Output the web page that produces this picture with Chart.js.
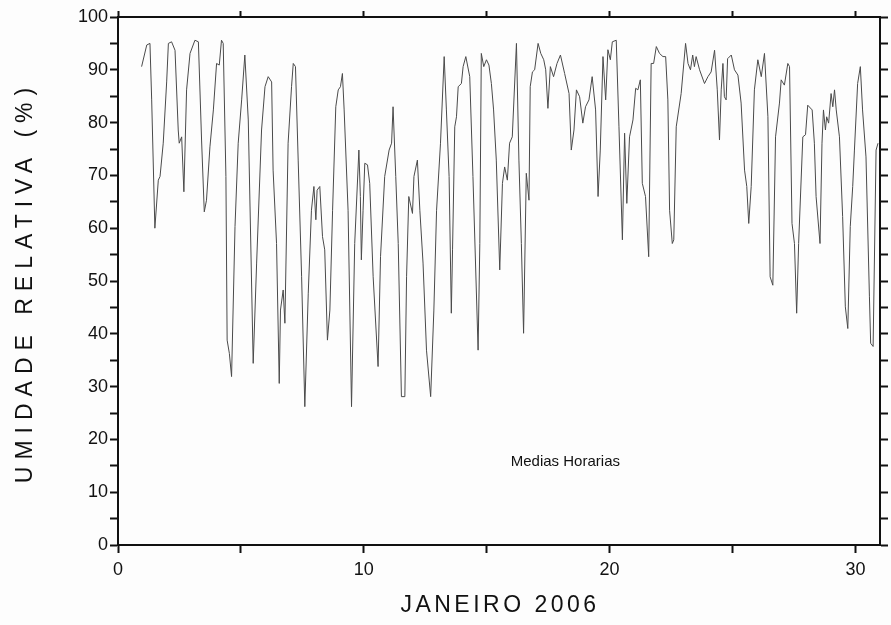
<!DOCTYPE html>
<html>
<head>
<meta charset="utf-8">
<script src="https://cdn.jsdelivr.net/npm/chart.js@4.4.1/dist/chart.umd.min.js"></script>
<style>
  html, body { margin: 0; padding: 0; background: #fdfdfd; overflow: hidden; }
  canvas { display: block; }
</style>
</head>
<body>
<canvas id="c" width="891" height="625"></canvas>
<script>
// medias horarias de umidade relativa, janeiro 2006
const dias = [
  0.96,1.17,1.30,1.37,1.50,1.64,1.71,1.84,1.98,2.05,2.18,2.32,2.45,2.49,2.59,2.68,2.79,2.93,3.13,3.27,
  3.40,3.51,3.60,3.74,3.88,4.01,4.12,4.21,4.28,4.39,4.44,4.53,4.62,4.76,4.89,5.03,5.16,5.30,5.50,5.64,
  5.84,5.98,6.11,6.25,6.31,6.45,6.56,6.61,6.72,6.79,6.92,7.06,7.13,7.22,7.33,7.47,7.60,7.74,7.87,7.97,
  8.05,8.10,8.21,8.32,8.41,8.52,8.62,8.73,8.86,8.96,9.05,9.13,9.20,9.36,9.50,9.63,9.80,9.86,9.90,9.97,
  10.04,10.15,10.24,10.38,10.58,10.68,10.85,11.03,11.13,11.19,11.30,11.40,11.53,11.67,11.74,11.83,11.98,12.04,12.18,12.28,
  12.41,12.55,12.72,12.85,12.96,13.12,13.27,13.36,13.47,13.56,13.61,13.70,13.77,13.84,13.97,14.04,14.15,14.31,14.44,14.65,
  14.72,14.78,14.88,14.99,15.09,15.19,15.28,15.39,15.53,15.64,15.73,15.84,15.93,16.04,16.21,16.31,16.41,16.50,16.61,16.72,
  16.77,16.86,16.95,17.09,17.20,17.32,17.40,17.49,17.59,17.72,17.86,18.00,18.17,18.35,18.44,18.55,18.65,18.78,18.91,19.02,
  19.16,19.29,19.43,19.53,19.62,19.73,19.84,19.93,20.03,20.11,20.27,20.38,20.52,20.61,20.70,20.81,20.95,21.06,21.15,21.25,
  21.33,21.46,21.59,21.69,21.79,21.90,22.03,22.17,22.28,22.37,22.44,22.55,22.61,22.71,22.91,23.09,23.19,23.29,23.38,23.45,
  23.52,23.66,23.86,24.00,24.13,24.27,24.38,24.47,24.54,24.61,24.67,24.74,24.80,24.95,25.08,25.22,25.35,25.49,25.58,25.66,
  25.76,25.89,26.03,26.17,26.30,26.44,26.53,26.64,26.75,26.91,26.98,27.11,27.25,27.32,27.42,27.52,27.61,27.69,27.86,27.97,
  28.06,28.24,28.33,28.40,28.56,28.64,28.70,28.78,28.83,28.91,29.01,29.08,29.15,29.22,29.35,29.48,29.59,29.69,29.79,29.89,
  29.96,30.09,30.20,30.29,30.43,30.57,30.62,30.72,30.84,30.92
];
const umidade = [
  90.6,94.7,95.0,84.3,60.0,69.1,69.8,76.1,87.7,95.0,95.3,93.7,78.6,76.1,77.3,66.9,86.2,93.1,95.6,95.3,
  76.7,63.1,65.3,75.4,82.4,91.2,90.9,95.6,95.0,69.8,38.8,36.3,31.9,60.3,76.1,84.3,92.8,80.5,34.4,53.4,
  78.6,86.8,88.7,87.7,71.0,57.1,30.6,44.5,48.3,42.0,76.1,86.8,91.2,90.6,72.9,50.8,26.2,47.7,63.4,67.9,
  61.6,67.2,67.9,58.4,55.9,38.8,44.5,63.4,83.0,86.2,86.8,89.3,82.4,63.4,26.2,57.1,74.8,66.0,54.0,63.4,
  72.3,72.0,68.5,50.8,33.8,54.6,69.8,74.8,76.1,83.0,69.8,57.1,28.1,28.1,50.8,66.0,62.8,69.8,72.9,63.4,
  53.4,36.9,28.1,44.5,63.4,76.1,92.5,82.4,69.8,43.9,55.9,79.2,81.1,86.8,87.4,90.6,92.5,88.7,69.8,36.9,
  57.1,93.1,90.6,91.9,90.9,87.4,82.4,72.9,52.1,68.5,71.6,69.1,76.1,77.3,95.0,72.9,57.1,40.1,70.4,65.3,
  86.8,89.6,90.0,95.0,93.1,91.9,90.0,82.7,90.6,88.7,91.2,92.8,89.3,85.5,74.8,78.6,86.2,84.9,79.9,83.0,
  84.3,88.7,82.4,66.0,74.8,92.5,84.3,93.8,91.9,95.3,95.6,79.2,57.8,78.0,64.7,77.3,80.5,86.5,86.2,88.1,
  68.5,66.0,54.6,91.2,91.2,94.4,93.1,92.5,92.5,84.3,63.4,57.1,57.8,79.2,85.5,95.0,91.2,90.0,92.8,90.6,
  92.5,90.0,87.4,88.7,89.6,93.7,86.2,76.7,86.2,91.2,84.9,84.3,92.1,92.8,90.0,89.0,83.7,71.0,67.9,60.9,
  67.9,86.2,91.9,88.7,93.1,81.1,50.8,49.2,77.3,83.7,88.1,87.1,91.2,90.6,60.9,57.1,43.9,57.1,77.3,77.7,
  83.3,82.4,76.1,66.0,57.1,76.1,82.4,78.6,81.1,79.9,85.5,83.0,86.2,82.4,77.3,62.2,45.1,41.0,60.3,67.9,
  74.8,87.4,90.6,82.4,73.5,47.0,38.2,37.6,74.8,76.1
];
const xMin = 0, xMax = 31, xStep = 5;
const yMin = 0, yMax = 100, yStep = 5;
const tituloX = 'JANEIRO 2006';
const tituloY = 'UMIDADE RELATIVA (%)';
const nota = 'Medias Horarias';

const FONT = '"Liberation Sans", Arial, Helvetica, sans-serif';

function eixo(extra){
  return Object.assign({
    type: 'linear',
    grid: { display: true, drawOnChartArea: false, drawTicks: true, tickLength: 8, tickWidth: 2, tickColor: '#111' },
    border: { display: true, color: '#111', width: 2 },
  }, extra);
}

const textos = {
  id: 'textos',
  afterDraw(chart){
    const ctx = chart.ctx;
    const x = chart.scales.x, y = chart.scales.y;
    ctx.save();
    ctx.fillStyle = '#111';
    ctx.textAlign = 'center';
    ctx.textBaseline = 'middle';
    // titulo eixo y
    ctx.save();
    ctx.font = '23px ' + FONT;
    ctx.letterSpacing = '7px';
    ctx.translate(26, 282);
    ctx.rotate(-Math.PI/2);
    ctx.fillText(tituloY, 0, 0);
    ctx.restore();
    // titulo eixo x
    ctx.font = '23px ' + FONT;
    ctx.letterSpacing = '3.5px';
    ctx.fillText(tituloX, 500, 606);
    // nota
    ctx.font = '15px ' + FONT;
    ctx.letterSpacing = '0px';
    ctx.fillText(nota, x.getPixelForValue(18.2), y.getPixelForValue(15.7));
    ctx.restore();
  }
};

new Chart(document.getElementById('c'), {
  type: 'line',
  data: {
    datasets: [{
      data: dias.map((d, i) => ({ x: d, y: umidade[i] })),
      borderColor: '#4a4a4a',
      borderWidth: 1,
      pointRadius: 0,
      tension: 0,
      fill: false
    }]
  },
  options: {
    responsive: false,
    animation: false,
    devicePixelRatio: 1,
    layout: { padding: 0 },
    plugins: { legend: { display: false }, tooltip: { enabled: false } },
    scales: {
      x: eixo({
        position: 'bottom', min: xMin, max: xMax,
        ticks: { stepSize: xStep, includeBounds: false, autoSkip: false, maxRotation: 0, padding: 6,
                 color: '#111', font: { family: FONT, size: 18 },
                 callback: v => (v % 10 === 0 ? String(v) : '') },
        afterFit: s => { s.height = 80; }
      }),
      x2: eixo({
        position: 'top', min: xMin, max: xMax,
        grid: { display: true, drawOnChartArea: false, drawTicks: true, tickLength: 6, tickWidth: 2, tickColor: '#111' },
        ticks: { stepSize: xStep, includeBounds: false, autoSkip: false, display: false },
        afterFit: s => { s.height = 17; }
      }),
      y: eixo({
        position: 'left', min: yMin, max: yMax,
        ticks: { stepSize: yStep, autoSkip: false, padding: 2,
                 color: '#111', font: { family: FONT, size: 18 },
                 callback: v => (v % 10 === 0 ? String(v) : '') },
        afterFit: s => { s.width = 118; }
      }),
      y2: eixo({
        position: 'right', min: yMin, max: yMax,
        ticks: { stepSize: yStep, autoSkip: false, display: false },
        afterFit: s => { s.width = 11; }
      })
    }
  },
  plugins: [textos]
});
</script>
</body>
</html>
